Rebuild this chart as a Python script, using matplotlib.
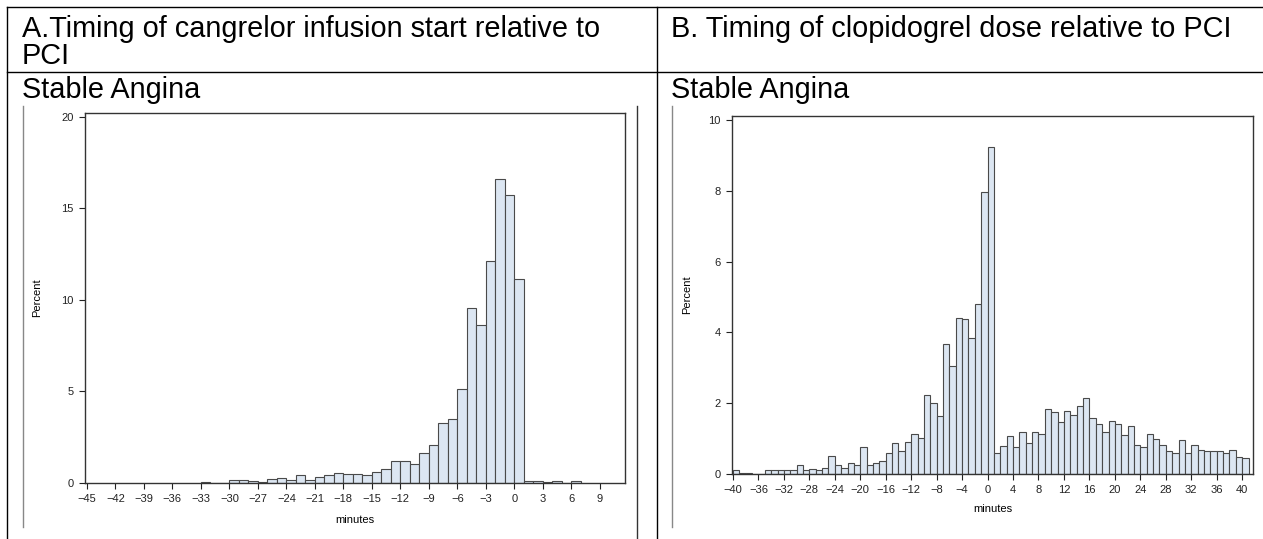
import matplotlib
matplotlib.use("Agg")
import matplotlib.pyplot as plt
from matplotlib.lines import Line2D
import numpy as np

plt.rcParams['font.family'] = ['Liberation Sans', 'DejaVu Sans']

# PANEL A DATA (cangrelor), 1-minute bins, value = left edge of bin
a_bins = [-33, -32, -31, -30, -29, -28, -27, -26, -25, -24, -23, -22, -21, -20,
          -19, -18, -17, -16, -15, -14, -13, -12, -11, -10, -9, -8, -7, -6,
          -5, -4, -3, -2, -1, 0, 1, 2, 3, 4, 5, 6]
a_pct = [0.07, 0, 0, 0.15, 0.15, 0.13, 0.05, 0.2, 0.26, 0.15, 0.46, 0.15, 0.31, 0.46,
         0.57, 0.49, 0.49, 0.42, 0.62, 0.77, 1.2, 1.2, 1.06, 1.66, 2.1, 3.28, 3.47, 5.11,
         9.53, 8.63, 12.1, 16.6, 15.75, 11.15, 0.13, 0.13, 0.05, 0.13, 0, 0.13]
a_ticks = list(range(-45, 10, 3))

# PANEL B DATA (clopidogrel)
b_bins = list(range(-40, 41))
b_pct = [0.1, 0.03, 0.03, 0, 0, 0.1, 0.1, 0.1, 0.1, 0.1,
         0.26, 0.1, 0.13, 0.1, 0.17, 0.51, 0.26, 0.16, 0.32, 0.26,
         0.77, 0.26, 0.32, 0.38, 0.59, 0.87, 0.65, 0.9, 1.13, 1.03,
         2.23, 2.0, 1.65, 3.68, 3.04, 4.41, 4.38, 3.84, 4.81, 7.97,
         9.25, 0.58, 0.8, 1.08, 0.77, 1.2, 0.87, 1.2, 1.13, 1.85,
         1.75, 1.46, 1.78, 1.68, 1.92, 2.15, 1.58, 1.42, 1.2, 1.49,
         1.4, 1.1, 1.36, 0.81, 0.75, 1.14, 1.0, 0.81, 0.65, 0.58,
         0.97, 0.58, 0.81, 0.69, 0.65, 0.65, 0.65, 0.58, 0.69, 0.49,
         0.45]
b_ticks = list(range(-40, 41, 4))

W, H = 1263, 539
fig = plt.figure(figsize=(W / 100, H / 100), dpi=100)


def px(x, y):
    return x / W, 1 - y / H


def line(x0, y0, x1, y1, color='black', lw=1.0):
    (fx0, fy0), (fx1, fy1) = px(x0, y0), px(x1, y1)
    fig.add_artist(Line2D([fx0, fx1], [fy0, fy1], color=color, lw=lw,
                          transform=fig.transFigure))


def text(x, y, s, **kw):
    fx, fy = px(x, y)
    fig.text(fx, fy, s, **kw)


# table grid
line(7, 7, W, 7)
line(7, 72, W, 72)
line(7, 7, 7, H)
line(657, 7, 657, H)
line(23, 106, 23, 527, color='#888888', lw=1.0)
line(672, 106, 672, 527, color='#888888', lw=1.0)
line(637, 106, 637, H, color='#333333', lw=1.0)

hdr = dict(fontsize=20.8, va='baseline', ha='left', color='black')
text(22, 37, 'A.Timing of cangrelor infusion start relative to', **hdr)
text(22, 64, 'PCI', **hdr)
text(671, 37, 'B. Timing of clopidogrel dose relative to PCI', **hdr)
text(22, 98, 'Stable Angina', **hdr)
text(671, 98, 'Stable Angina', **hdr)


def panel(rect, bins, pct, ticks, xlim, ylim, yticks, label_x, xlab_y):
    l, t, r, b = rect
    ax = fig.add_axes([l / W, 1 - b / H, (r - l) / W, (b - t) / H])
    ax.bar(bins, pct, width=1, align='edge', color='#dce6f2',
           edgecolor='#4a4a4a', linewidth=0.8)
    ax.set_xlim(*xlim)
    ax.set_ylim(*ylim)
    ax.set_xticks(ticks)
    ax.set_yticks(yticks)
    ax.tick_params(labelsize=8, length=4, width=0.8, pad=4, colors='#222222')
    for s in ax.spines.values():
        s.set_color('#333333')
        s.set_linewidth(1.0)
    ax.set_ylabel('Percent', fontsize=8)
    ax.yaxis.set_label_coords((label_x - l) / (r - l), 0.5)
    ax.set_xlabel('minutes', fontsize=8)
    ax.xaxis.set_label_coords(0.5, -(xlab_y - b) / (b - t))
    return ax


panel((85, 113, 625, 483), a_bins, a_pct, a_ticks, (-45.2, 11.65), (0, 20.2),
      [0, 5, 10, 15, 20], 42, 515)
panel((732, 116, 1253, 474), b_bins, b_pct, b_ticks, (-40.15, 41.7), (0, 10.12),
      [0, 2, 4, 6, 8, 10], 692, 504)

fig.savefig('out.png', dpi=100)
